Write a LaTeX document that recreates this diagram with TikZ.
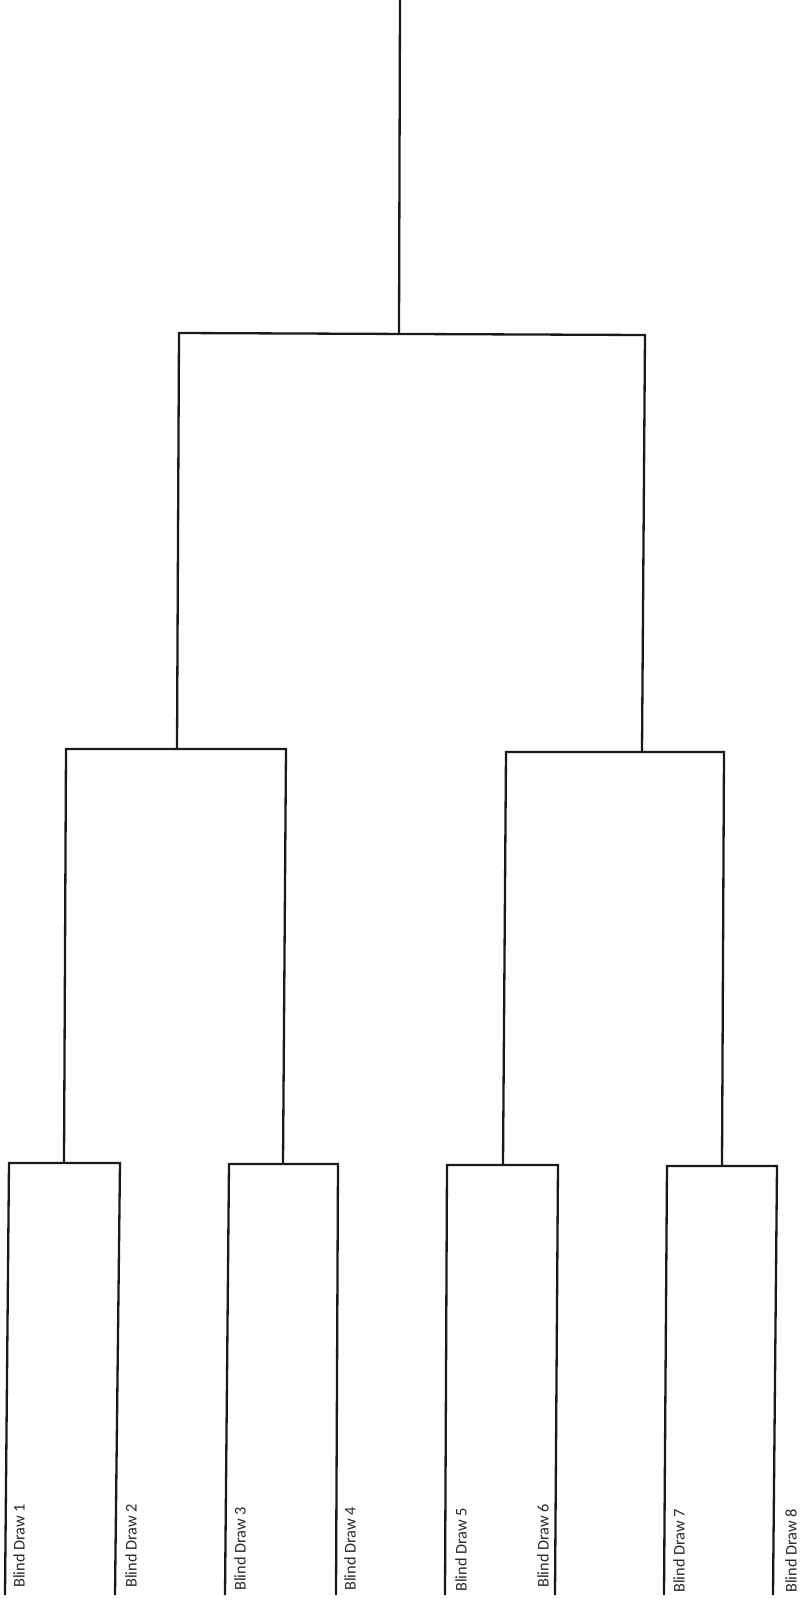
\documentclass[tikz,border=0pt]{standalone}
\usepackage{fontspec}
\setmainfont{Carlito}
\usetikzlibrary{positioning}
\definecolor{bracketink}{RGB}{25,25,25}
\definecolor{labelink}{RGB}{40,40,40}

\begin{document}
\begin{tikzpicture}[x=1pt, y=1pt,
    wire/.style={draw=bracketink, line width=2.3pt},
    entry/.style={rotate=90, anchor=north west, inner sep=0pt, font=\fontsize{16.3}{16}\selectfont, text=labelink}
]
\useasboundingbox (0,0) rectangle (802,-1601);

% Leaves (bottom ends)
\coordinate (d1) at (5,-1595);
\coordinate (d2) at (115,-1595);
\coordinate (d3) at (225,-1595);
\coordinate (d4) at (336,-1595);
\coordinate (d5) at (445,-1595);
\coordinate (d6) at (555,-1595);
\coordinate (d7) at (664,-1595);
\coordinate (d8) at (773,-1595);

% First round
\coordinate (q1a) at (9,-1163);
\coordinate (q1b) at (120,-1163);
\coordinate (q2a) at (229,-1164);
\coordinate (q2b) at (338,-1164);
\coordinate (q3a) at (447,-1165);
\coordinate (q3b) at (558,-1165);
\coordinate (q4a) at (667,-1166);
\coordinate (q4b) at (777,-1166);
\coordinate (q1) at (64,-1163);
\coordinate (q2) at (283,-1164);
\coordinate (q3) at (503,-1165);
\coordinate (q4) at (722,-1166);

\draw[wire] (d1) -- (q1a) -- (q1b) -- (d2);
\draw[wire] (d3) -- (q2a) -- (q2b) -- (d4);
\draw[wire] (d5) -- (q3a) -- (q3b) -- (d6);
\draw[wire] (d7) -- (q4a) -- (q4b) -- (d8);

% Semi-finals
\coordinate (s1) at (177,-749);
\coordinate (s2) at (642,-752);
\draw[wire] (q1) -- (66,-749) -- (286,-749) -- (q2);
\draw[wire] (q3) -- (506,-752) -- (724,-752) -- (q4);

% Final
\coordinate (fin) at (399,-334);
\coordinate (champ) at (400,0);
\draw[wire] (s1) -- (179,-333) -- (645,-335) -- (s2);
\draw[wire] (fin) -- (champ);

% Labels
\node[entry] (b1) at (13,-1588) {Blind Draw 1};
\node[entry] (b2) at (125,-1588) {Blind Draw 2};
\node[entry] (b3) at (234,-1591) {Blind Draw 3};
\node[entry] (b4) at (344,-1591) {Blind Draw 4};
\node[entry] (b5) at (455,-1592) {Blind Draw 5};
\node[entry] (b6) at (537,-1588) {Blind Draw 6};
\node[entry] (b7) at (673,-1593) {Blind Draw 7};
\node[entry] (b8) at (785,-1593) {Blind Draw 8};

\end{tikzpicture}
\end{document}
